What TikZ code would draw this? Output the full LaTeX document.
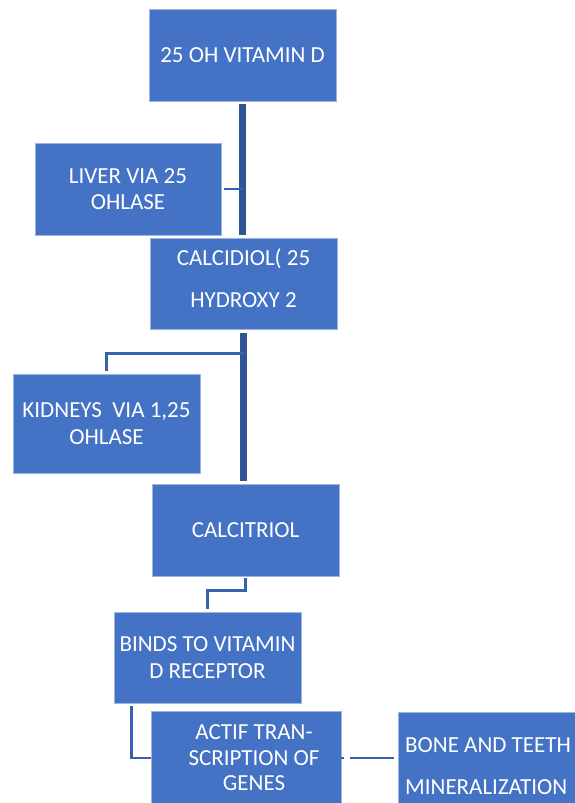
\documentclass[tikz,border=0pt]{standalone}
\usepackage{fontspec}
\setmainfont{Carlito}
\definecolor{boxblue}{HTML}{4472C4}
\definecolor{edgeblue}{HTML}{9DB5E0}
\definecolor{thickblue}{HTML}{2F5597}
\definecolor{thinblue}{HTML}{3762AE}
\begin{document}
\begin{tikzpicture}[x=1pt,y=-1pt,
  boxnode/.style={draw=edgeblue,line width=0.7pt,fill=boxblue,text=white,inner sep=0pt,
    align=center,font=\fontsize{23}{26.5}\selectfont,minimum width=#1},
  boxnode/.default=187pt,
  txtnode/.style={text=white,inner sep=0pt,font=\fontsize{23}{25.5}\selectfont},
  thickcon/.style={draw=thickblue,line width=7pt},
  thincon/.style={draw=thinblue,line width=2.6pt}]
\clip (0,0) rectangle (575,803);
\fill[white] (0,0) rectangle (575,803);
% boxes
\node[boxnode, minimum height=92pt] (vit) at (242.5,55) {25 OH VITAMIN D};
\node[boxnode=186pt, minimum height=92pt] (liver) at (128,189) {LIVER VIA 25\\OHLASE};
\node[boxnode, minimum height=91pt] (calcidiol) at (243.5,283.5) {CALCIDIOL( 25\\[16pt]HYDROXY 2\\[-16pt]\mbox{}};
\node[boxnode, minimum height=99pt] (kid) at (106.5,423.5) {KIDNEYS~ VIA 1,25\\OHLASE};
\node[boxnode, minimum height=92pt] (calc) at (245.5,530) {CALCITRIOL};
\node[boxnode, minimum height=91pt] (binds) at (207.5,657.5) {BINDS TO VITAMIN\\D RECEPTOR};
\node[boxnode=190pt, minimum height=94pt] (actif) at (246,758) {};
\node[txtnode, align=center] (actiftext) at (254,758) {ACTIF TRAN-\\SCRIPTION OF\\GENES};
\node[boxnode=192pt, minimum height=93pt] (bone) at (494,758.5) {};
\node[txtnode, anchor=west, align=left, font=\fontsize{23}{26}\selectfont] (bonetext) at (405,766) {BONE AND TEETH\\[16pt]MINERALIZATION};
% connectors
\draw[thickcon] ([yshift=-2.5pt]vit.south) -- ([yshift=3pt]vit.south |- calcidiol.north);
\draw[thincon] ([xshift=3pt]liver.east) -- (liver.east -| vit.south);
\coordinate (kj) at ([yshift=-24pt]calcidiol.south);
\draw[thickcon] ([yshift=-4pt]calcidiol.south) -- ([yshift=3pt]calcidiol.south |- calc.north);
\draw[thincon] ([yshift=3pt]kid.north) |- (kj);
\draw[thincon] ([yshift=-2pt]calc.south) -- ++(0,12) -| ([yshift=3pt]binds.north);
\draw[thincon] ([shift={(18pt,-3pt)}]binds.south west) |- (actif.west);
\draw[thincon, dash pattern=on 3pt off 6pt on 80pt] (actif.east) -- ([xshift=-4pt]actif.east -| bone.west);
\end{tikzpicture}
\end{document}
